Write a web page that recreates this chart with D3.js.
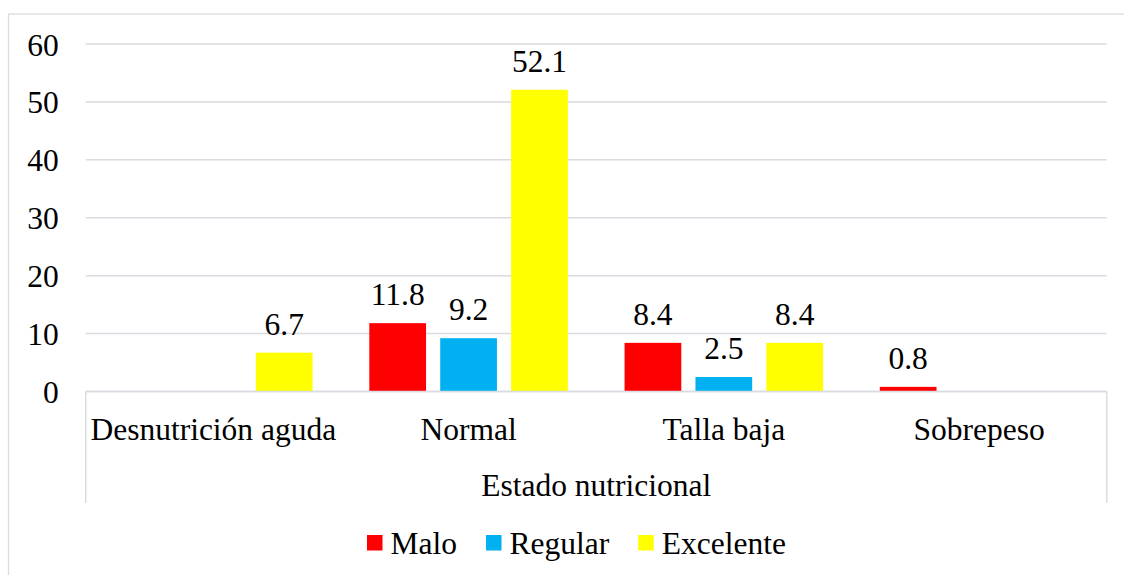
<!DOCTYPE html>
<html lang="es">
<head>
    <meta charset="UTF-8">
    <title>Estado nutricional</title>
    <script src="https://d3js.org/d3.v7.min.js"></script>
    <style>
        body { margin: 0; background: #fff; }
        text { font-family: "Liberation Serif", "Times New Roman", serif; fill: #000; }
    </style>
</head>
<body>
    <div id="chart"></div>

    <script>
        // datos
        const categories = ["Desnutrición aguda", "Normal", "Talla baja", "Sobrepeso"];
        const seriesNames = ["Malo", "Regular", "Excelente"];
        const malo = [null, 11.8, 8.4, 0.8];
        const regular = [null, 9.2, 2.5, null];
        const excelente = [6.7, 52.1, 8.4, null];
        const yTicks = [0, 10, 20, 30, 40, 50, 60];
        const axisTitle = "Estado nutricional";

        const colors = ["#ff0000", "#00b0f0", "#ffff00"];
        const values = [malo, regular, excelente];

        const width = 1124;
        const height = 575;
        const margin = { top: 44, right: 17.3, bottom: 183.5, left: 85.7 };
        const fontSize = 31.5;

        const svg = d3.select("#chart")
            .append("svg")
            .attr("width", width)
            .attr("height", height);

        // borde exterior
        svg.append("rect")
            .attr("x", 8.5)
            .attr("y", 14)
            .attr("width", width + 20)
            .attr("height", height + 20)
            .attr("fill", "none")
            .attr("stroke", "#d9dce1")
            .attr("stroke-width", 1.3);

        const x0 = d3.scaleBand()
            .domain(categories)
            .range([margin.left, width - margin.right]);

        const x1 = d3.scaleBand()
            .domain(seriesNames)
            .range([0, x0.bandwidth()])
            .paddingInner(0.2)
            .paddingOuter(0.4);

        const y = d3.scaleLinear()
            .domain([0, 60])
            .range([height - margin.bottom, margin.top]);

        // rejilla
        svg.append("g")
            .selectAll("line")
            .data(yTicks)
            .join("line")
            .attr("x1", margin.left)
            .attr("x2", width - margin.right)
            .attr("y1", d => y(d))
            .attr("y2", d => y(d))
            .attr("stroke", "#d9dce1")
            .attr("stroke-width", 1.5);

        // eje Y
        const yAxis = svg.append("g")
            .attr("transform", `translate(${margin.left - 27},0)`)
            .call(d3.axisLeft(y).tickValues(yTicks).tickSize(0).tickPadding(0));
        yAxis.select(".domain").remove();
        yAxis.selectAll("text")
            .style("font-size", fontSize + "px")
            .style("font-family", "'Liberation Serif', 'Times New Roman', serif")
            .attr("dy", "0.35em");

        // barras
        const groups = svg.append("g")
            .selectAll("g")
            .data(seriesNames.map((s, i) => ({ name: s, color: colors[i], vals: values[i] })))
            .join("g")
            .attr("fill", d => d.color);

        const barData = d => categories
            .map((c, j) => ({ cat: c, name: d.name, v: d.vals[j] }))
            .filter(e => e.v !== null);

        groups.selectAll("rect")
            .data(barData)
            .join("rect")
            .attr("x", d => x0(d.cat) + x1(d.name))
            .attr("y", d => y(d.v))
            .attr("width", x1.bandwidth())
            .attr("height", d => y(0) - y(d.v));

        // etiquetas de valor
        groups.selectAll("text")
            .data(barData)
            .join("text")
            .attr("x", d => x0(d.cat) + x1(d.name) + x1.bandwidth() / 2)
            .attr("y", d => y(d.v) - 18)
            .attr("text-anchor", "middle")
            .style("font-size", fontSize + "px")
            .text(d => d.v.toFixed(1));

        // eje X (categorías en dos niveles)
        const base = y(0);
        const axisG = svg.append("g");
        axisG.append("line")
            .attr("x1", margin.left).attr("x2", width - margin.right)
            .attr("y1", base).attr("y2", base)
            .attr("stroke", "#d9dce1").attr("stroke-width", 1.5);
        axisG.selectAll("line.edge")
            .data([margin.left, width - margin.right])
            .join("line")
            .attr("class", "edge")
            .attr("x1", d => d).attr("x2", d => d)
            .attr("y1", base).attr("y2", 503)
            .attr("stroke", "#d9dce1").attr("stroke-width", 1.5);

        axisG.selectAll("text.cat")
            .data(categories)
            .join("text")
            .attr("class", "cat")
            .attr("x", d => x0(d) + x0.bandwidth() / 2)
            .attr("y", 440)
            .attr("text-anchor", "middle")
            .style("font-size", fontSize + "px")
            .text(d => d);

        axisG.append("text")
            .attr("x", (margin.left + width - margin.right) / 2)
            .attr("y", 496)
            .attr("text-anchor", "middle")
            .style("font-size", fontSize + "px")
            .text(axisTitle);

        // leyenda
        const legend = svg.append("g").attr("transform", "translate(367,543)");
        let lx = 0;
        seriesNames.forEach((s, i) => {
            const item = legend.append("g").attr("transform", `translate(${lx},0)`);
            item.append("rect")
                .attr("x", 0).attr("y", -8)
                .attr("width", 15.5).attr("height", 15.5)
                .attr("fill", colors[i]);
            const t = item.append("text")
                .attr("x", 23.5)
                .attr("y", 0)
                .attr("dy", "0.35em")
                .style("font-size", fontSize + "px")
                .text(s);
            lx += 23.5 + t.node().getComputedTextLength() + 29;
        });
    </script>
</body>
</html>
